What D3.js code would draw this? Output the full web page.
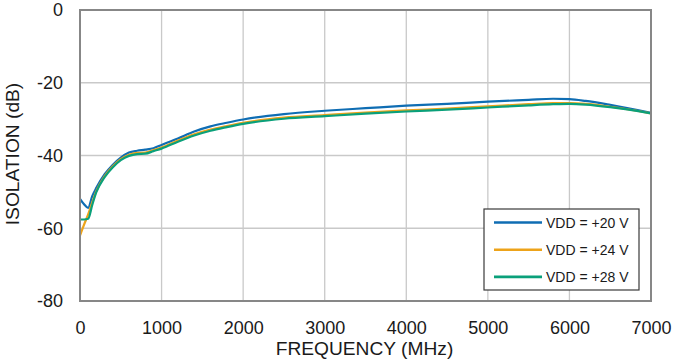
<!DOCTYPE html>
<html>
<head>
<meta charset="utf-8">
<script src="https://cdn.jsdelivr.net/npm/d3@7"></script>
<style>
  html, body { margin: 0; padding: 0; background: #fff; }
  svg { display: block; font-family: "Liberation Sans", Arial, sans-serif; }
</style>
</head>
<body>
<svg id="chart" width="673" height="360"></svg>
<script>
// Frequency points (MHz)
const freq = [0, 50, 100, 150, 200, 300, 400, 500, 600, 700, 800, 900, 1000, 1200, 1400, 1600, 1800, 2000, 2500, 3000, 3500, 4000, 4500, 5000, 5500, 5800, 6000, 6200, 6500, 7000];

// Isolation (dB) for each supply voltage
const vdd20 = [-51.9, -53.4, -54.4, -51.2, -48.9, -45.2, -42.6, -40.6, -39.2, -38.7, -38.4, -38.0, -37.1, -35.3, -33.4, -32.0, -31.0, -30.1, -28.6, -27.7, -27.0, -26.3, -25.8, -25.2, -24.7, -24.4, -24.5, -25.0, -26.1, -28.3];
const vdd24 = [-62.0, -59.0, -56.2, -52.9, -49.8, -45.7, -43.0, -41.0, -39.8, -39.3, -39.2, -38.5, -37.8, -35.9, -34.2, -32.9, -31.9, -31.0, -29.6, -28.9, -28.2, -27.6, -27.1, -26.5, -25.9, -25.6, -25.6, -25.8, -26.6, -28.4];
const vdd28 = [-57.6, -57.6, -57.4, -53.6, -50.1, -46.0, -43.3, -41.3, -40.1, -39.6, -39.5, -38.8, -38.1, -36.2, -34.5, -33.2, -32.2, -31.3, -29.9, -29.2, -28.5, -27.9, -27.4, -26.8, -26.2, -25.9, -25.8, -26.0, -26.7, -28.4];

const seriesNames = ["VDD = +20 V", "VDD = +24 V", "VDD = +28 V"];
const seriesColors = ["#0f6db3", "#eda31a", "#0aa07a"];
const seriesValues = [vdd20, vdd24, vdd28];

const xTicks = [0, 1000, 2000, 3000, 4000, 5000, 6000, 7000];
const yTicks = [0, -20, -40, -60, -80];

const svg = d3.select("#chart");
const x = d3.scaleLinear().domain([0, 7000]).range([80, 651]);
const y = d3.scaleLinear().domain([-80, 0]).range([301, 10]);

// Grid
const grid = svg.append("g").attr("stroke", "#c9c9c9").attr("stroke-width", 1.3);
grid.selectAll("line.v").data(xTicks.slice(1, -1)).join("line")
  .attr("x1", d => x(d)).attr("x2", d => x(d))
  .attr("y1", y(0)).attr("y2", y(-80));
grid.selectAll("line.h").data(yTicks.slice(1, -1)).join("line")
  .attr("x1", x(0)).attr("x2", x(7000))
  .attr("y1", d => y(d)).attr("y2", d => y(d));

// Curves
const line = d3.line()
  .x((d, i) => x(freq[i]))
  .y(d => y(d))
  .curve(d3.curveMonotoneX);

svg.append("g").selectAll("path").data(seriesValues).join("path")
  .attr("d", d => line(d))
  .attr("fill", "none")
  .attr("stroke", (d, i) => seriesColors[i])
  .attr("stroke-width", 2.2)
  .attr("stroke-linejoin", "round");

// Plot frame
svg.append("rect")
  .attr("x", x(0)).attr("y", y(0))
  .attr("width", x(7000) - x(0)).attr("height", y(-80) - y(0))
  .attr("fill", "none").attr("stroke", "#878787").attr("stroke-width", 2);

// Axes (plain hyphen for negative labels)
const plain = d => String(d);

const xAxis = svg.append("g")
  .attr("transform", `translate(0,${y(-80)})`)
  .call(d3.axisBottom(x).tickValues(xTicks).tickFormat(plain).tickSize(0));
xAxis.select(".domain").remove();
xAxis.selectAll("text")
  .attr("y", 33).attr("dy", null)
  .attr("font-size", 18).attr("fill", "#1a1a1a")
  .attr("font-family", "Liberation Sans, Arial, sans-serif");

const yAxis = svg.append("g")
  .attr("transform", `translate(${x(0)},0)`)
  .call(d3.axisLeft(y).tickValues(yTicks).tickFormat(plain).tickSize(0).tickPadding(17));
yAxis.select(".domain").remove();
yAxis.selectAll("text")
  .attr("font-size", 18).attr("fill", "#1a1a1a")
  .attr("font-family", "Liberation Sans, Arial, sans-serif");

// Axis titles
svg.append("text")
  .attr("x", 364.5).attr("y", 355)
  .attr("text-anchor", "middle")
  .attr("font-size", 19.2).attr("fill", "#1a1a1a")
  .text("FREQUENCY (MHz)");

svg.append("text")
  .attr("transform", "translate(18.5,154) rotate(-90)")
  .attr("text-anchor", "middle")
  .attr("font-size", 19.2).attr("fill", "#1a1a1a")
  .text("ISOLATION (dB)");

// Legend
const legend = svg.append("g").attr("transform", "translate(484,209)");
legend.append("rect")
  .attr("width", 155).attr("height", 81)
  .attr("fill", "#fff").attr("stroke", "#3a3a3a").attr("stroke-width", 1.2);
const items = legend.selectAll("g.item").data(seriesNames).join("g")
  .attr("transform", (d, i) => `translate(0,${13.5 + i * 27.2})`);
items.append("line")
  .attr("x1", 10).attr("x2", 58)
  .attr("stroke", (d, i) => seriesColors[i]).attr("stroke-width", 2.6);
items.append("text")
  .attr("x", 62).attr("y", 5)
  .attr("font-size", 14).attr("fill", "#1a1a1a")
  .text(d => d);
</script>
</body>
</html>
